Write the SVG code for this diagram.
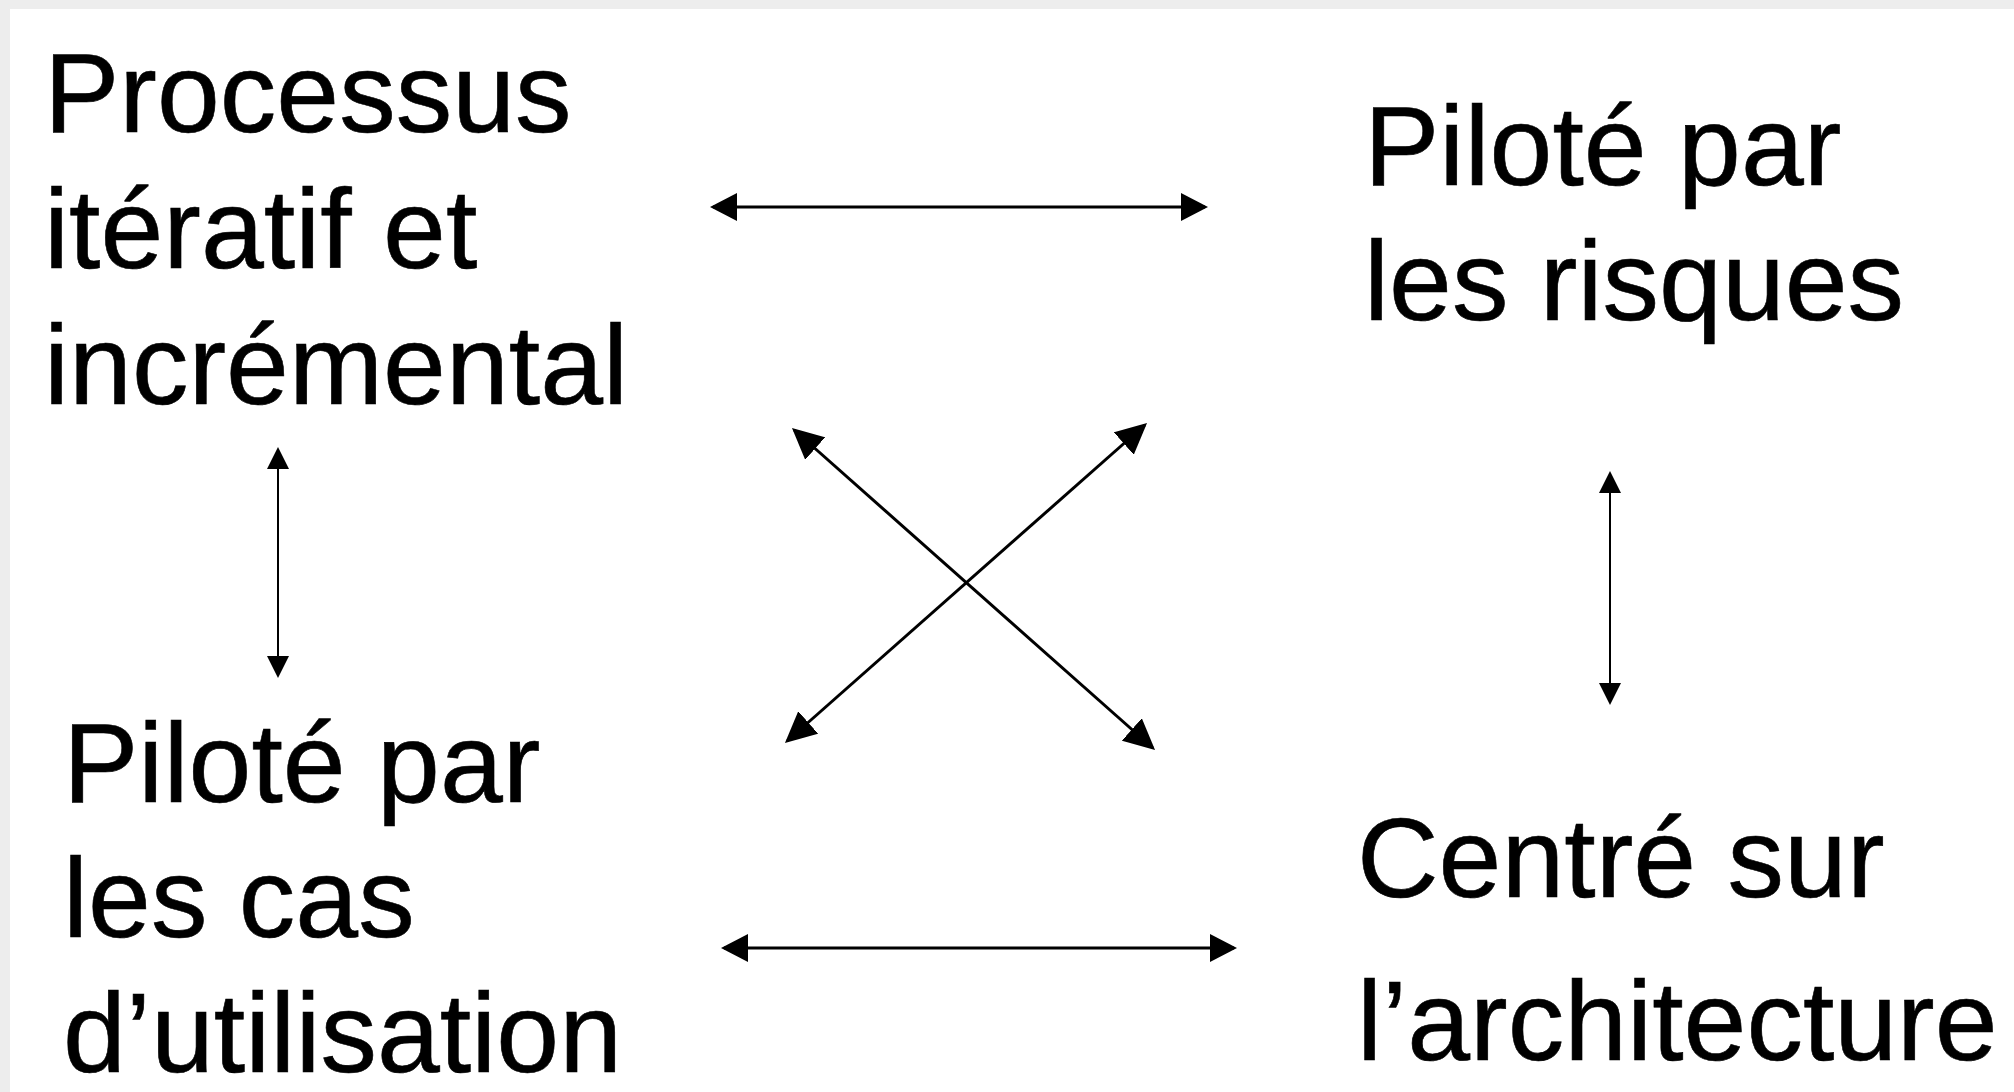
<svg xmlns="http://www.w3.org/2000/svg" width="2014" height="1092" viewBox="0 0 2014 1092">
  <style>
    .lbl { font-family: "Liberation Sans", Arial, sans-serif; font-size: 113px; fill: #000; stroke: #000; stroke-width: 0.6px; }
    .ln { stroke: #000; fill: none; stroke-linecap: butt; }
    .h { stroke-width: 3; marker-start: url(#mH); marker-end: url(#mH); }
    .v { stroke-width: 2; marker-start: url(#mV); marker-end: url(#mV); }
    .x { stroke-width: 3; marker-start: url(#mX); marker-end: url(#mX); }
  </style>
  <defs>
    <marker id="mH" markerUnits="userSpaceOnUse" viewBox="0 0 27 28" markerWidth="27" markerHeight="28" refX="24" refY="14" orient="auto-start-reverse">
      <path d="M0,0 L27,14 L0,28 Z" fill="#000"/>
    </marker>
    <marker id="mV" markerUnits="userSpaceOnUse" viewBox="0 0 22 22" markerWidth="22" markerHeight="22" refX="19" refY="11" orient="auto-start-reverse">
      <path d="M0,0 L22,11 L0,22 Z" fill="#000"/>
    </marker>
    <marker id="mX" markerUnits="userSpaceOnUse" viewBox="0 0 31 30" markerWidth="31" markerHeight="30" refX="28" refY="15" orient="auto-start-reverse">
      <path d="M0,0 L31,15 L0,30 Z" fill="#000"/>
    </marker>
  </defs>

  <rect x="0" y="0" width="2014" height="1092" fill="#ededed"/>
  <rect x="10" y="9" width="2004" height="1083" fill="#ffffff"/>

  <g id="node-processus">
    <text class="lbl" x="44" y="132">Processus</text>
    <text class="lbl" x="44" y="268">itératif et</text>
    <text class="lbl" x="44" y="404">incrémental</text>
  </g>
  <g id="node-risques">
    <text class="lbl" x="1364" y="185">Piloté par</text>
    <text class="lbl" x="1364" y="320">les risques</text>
  </g>
  <g id="node-cas">
    <text class="lbl" x="63" y="802">Piloté par</text>
    <text class="lbl" x="63" y="937">les cas</text>
    <text class="lbl" x="63" y="1072">d’utilisation</text>
  </g>
  <g id="node-architecture">
    <text class="lbl" x="1357" y="897">Centré sur</text>
    <text class="lbl" x="1357" y="1060">l’architecture</text>
  </g>

  <g id="connectors">
    <line class="ln h" x1="713" y1="207" x2="1205" y2="207"/>
    <line class="ln h" x1="724" y1="948" x2="1234" y2="948"/>
    <line class="ln v" x1="278" y1="450" x2="278" y2="675"/>
    <line class="ln v" x1="1610" y1="474" x2="1610" y2="702"/>
    <line class="ln x" x1="794.2" y1="430" x2="1152.8" y2="748"/>
    <line class="ln x" x1="1144.8" y1="425" x2="787.2" y2="741"/>
  </g>
</svg>
